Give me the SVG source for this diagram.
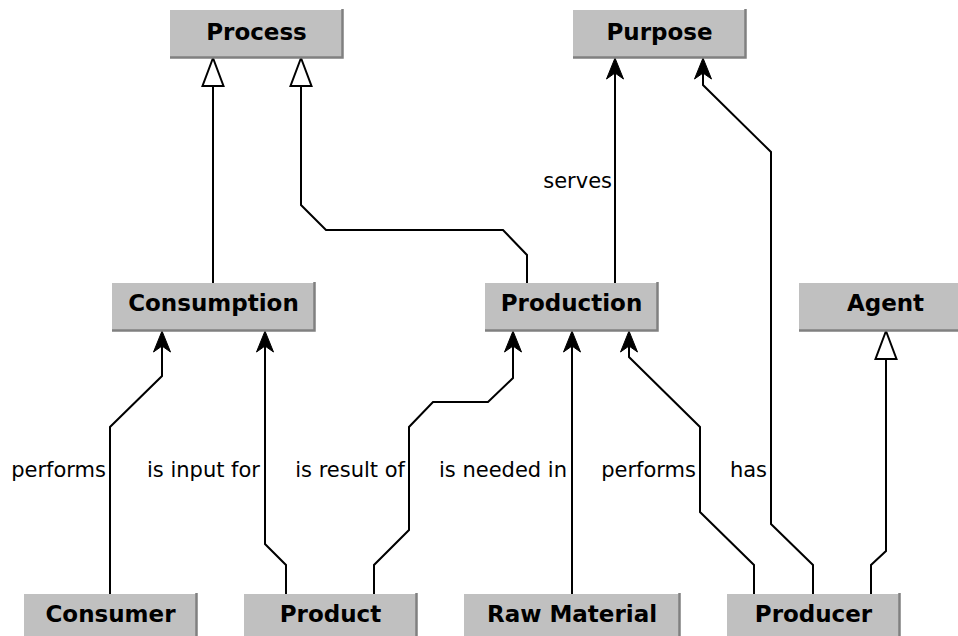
<svg xmlns="http://www.w3.org/2000/svg" width="958" height="636" viewBox="0 0 958 636">
<style>
.box{fill:#c0c0c0;stroke:none}
.sh{fill:none;stroke:#808080;stroke-width:2.5}
.nt{font-family:"DejaVu Sans",Verdana,sans-serif;font-weight:bold;font-size:23px;fill:#000;text-anchor:middle}
.lt{font-family:"DejaVu Sans",Verdana,sans-serif;font-size:21px;fill:#000;text-anchor:end}
.c{fill:none;stroke:#000;stroke-width:2}
.a{marker-end:url(#arr)}
.g{marker-end:url(#gen)}
</style>
<defs>
<marker id="arr" markerUnits="userSpaceOnUse" orient="auto" refX="-15" refY="0" markerWidth="30" markerHeight="30" overflow="visible">
<path d="M0,0 L-21,-8.5 L-15,0 L-21,8.5 Z" fill="#000" stroke="#000" stroke-width="1" stroke-linejoin="miter"/>
</marker>
<marker id="gen" markerUnits="userSpaceOnUse" orient="auto" refX="-28" refY="0" markerWidth="40" markerHeight="40" overflow="visible">
<path d="M0,0 L-28,-10.5 L-28,10.5 Z" fill="#fff" stroke="#000" stroke-width="2"/>
</marker>
</defs>

<g id="connectors">
<path class="c g" d="M213,283 V86"/>
<path class="c g" d="M527,283 V255 L503,230 H326 L301,205 V86"/>
<path class="c a" d="M615,283 V73"/>
<path class="c a" d="M813,594 V565 L771,524 V152 L703,85 V73"/>
<path class="c g" d="M871,594 V565 L886,551 V359"/>
<path class="c a" d="M754,594 V565 L700,512 V427 L629,357 V346"/>
<path class="c a" d="M572,594 V346"/>
<path class="c a" d="M374,594 V565 L409,530 V427 L433,402 H488 L513,378 V346"/>
<path class="c a" d="M286,594 V565 L265,544 V346"/>
<path class="c a" d="M110,594 V427 L162,376 V346"/>
<text class="lt" x="612" y="188">serves</text>
<text class="lt" x="106" y="477">performs</text>
<text class="lt" x="260" y="477">is input for</text>
<text class="lt" x="405" y="477">is result of</text>
<text class="lt" x="567" y="477">is needed in</text>
<text class="lt" x="696" y="477">performs</text>
<text class="lt" x="767" y="477">has</text>
</g>

<g id="process">
<rect class="box" x="170" y="10" width="172" height="47"/>
<path class="sh" d="M342.5,9 V57.5 H170"/>
<text class="nt" x="256.5" y="40">Process</text>
</g>
<g id="purpose">
<rect class="box" x="573" y="10" width="172" height="47"/>
<path class="sh" d="M745.5,9 V57.5 H573"/>
<text class="nt" x="659.5" y="40">Purpose</text>
</g>
<g id="consumption">
<rect class="box" x="112" y="283" width="202" height="47"/>
<path class="sh" d="M314.5,282 V330.5 H112"/>
<text class="nt" x="213.5" y="311">Consumption</text>
</g>
<g id="production">
<rect class="box" x="485" y="283" width="172" height="47"/>
<path class="sh" d="M657.5,282 V330.5 H485"/>
<text class="nt" x="571.5" y="311">Production</text>
</g>
<g id="agent">
<rect class="box" x="799" y="283" width="172" height="47"/>
<path class="sh" d="M971.5,282 V330.5 H799"/>
<text class="nt" x="885.5" y="311">Agent</text>
</g>
<g id="consumer">
<rect class="box" x="24" y="594" width="172" height="47"/>
<path class="sh" d="M196.5,593 V641.5 H24"/>
<text class="nt" x="110.5" y="622">Consumer</text>
</g>
<g id="product">
<rect class="box" x="244" y="594" width="172" height="47"/>
<path class="sh" d="M416.5,593 V641.5 H244"/>
<text class="nt" x="330.5" y="622">Product</text>
</g>
<g id="raw-material">
<rect class="box" x="464" y="594" width="215" height="47"/>
<path class="sh" d="M679.5,593 V641.5 H464"/>
<text class="nt" x="572" y="622">Raw Material</text>
</g>
<g id="producer">
<rect class="box" x="727" y="594" width="172" height="47"/>
<path class="sh" d="M899.5,593 V641.5 H727"/>
<text class="nt" x="813.5" y="622">Producer</text>
</g>
</svg>
